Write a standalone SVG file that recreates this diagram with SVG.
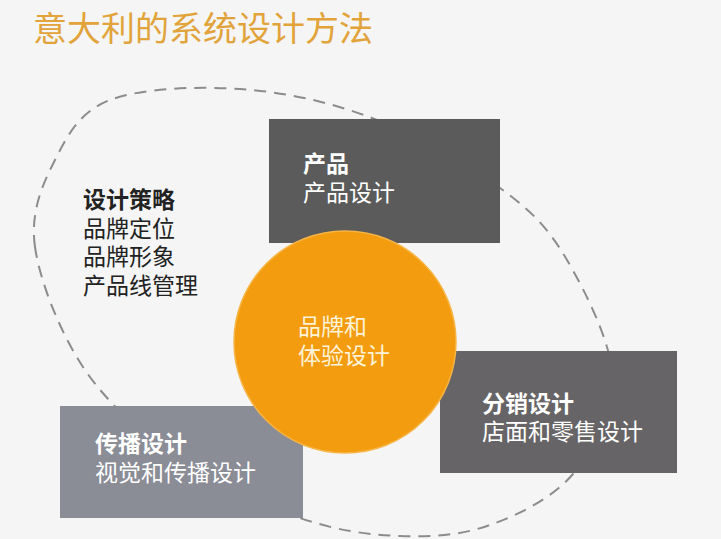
<svg xmlns="http://www.w3.org/2000/svg" width="721" height="539" viewBox="0 0 721 539">
<style>
text{font-family:"Noto Sans CJK SC","Noto Sans",sans-serif;font-size:23px}
.b{font-weight:bold}
.w{fill:#ffffff}
.k{fill:#222222}
</style>
<rect width="721" height="539" fill="#f4f5f4"/>
<text x="33" y="41" style="font-size:34px" fill="#e2a33a">意大利的系统设计方法</text>
<g id="connectors">
<path d="M35,247 C30,212 42.5,184.5 55,160 C67.5,135.5 79.2,111.8 110,100 C140.8,88.2 196.3,86 240,89 C283.7,92 328.7,101.5 372,118 C415.3,134.5 467.5,164.3 500,188 C532.5,211.7 548.2,228 567,260 C585.8,292 612,344.3 613,380 C614,415.7 593.5,449.8 573,474 C552.5,498.2 518.8,514.7 490,525 C461.2,535.3 431.7,537.2 400,536 C368.3,534.8 336.7,530.7 300,518 C263.3,505.3 215.8,484.7 180,460 C144.2,435.3 109.2,405.5 85,370 C60.8,334.5 40,282 35,247 Z" fill="none" stroke="#8c8c8c" stroke-width="2" stroke-dasharray="12 8"/>
</g>
<g id="strategy">
<text x="83" y="208" class="b k">设计策略</text>
<text x="83" y="237" class="k">品牌定位</text>
<text x="83" y="265" class="k">品牌形象</text>
<text x="83" y="294" class="k">产品线管理</text>
</g>
<g id="product">
<rect x="269" y="119" width="231" height="124" fill="#5a5b5a"/>
<text x="303" y="172" class="b w">产品</text>
<text x="303" y="201" class="w">产品设计</text>
</g>
<g id="distribution">
<rect x="440" y="351" width="237" height="122" fill="#666466"/>
<text x="482" y="412" class="b w">分销设计</text>
<text x="482" y="440" class="w">店面和零售设计</text>
</g>
<g id="communication">
<rect x="60" y="406" width="243" height="112" fill="#8a8c96"/>
<text x="95" y="452" class="b w">传播设计</text>
<text x="95" y="481" class="w">视觉和传播设计</text>
</g>
<g id="brand">
<circle cx="345" cy="342" r="111" fill="#f39c0f" stroke="#f6b444" stroke-width="1.5"/>
<text x="298" y="335" fill="#fdf3d8">品牌和</text>
<text x="298" y="364" fill="#fdf3d8">体验设计</text>
</g>
</svg>
